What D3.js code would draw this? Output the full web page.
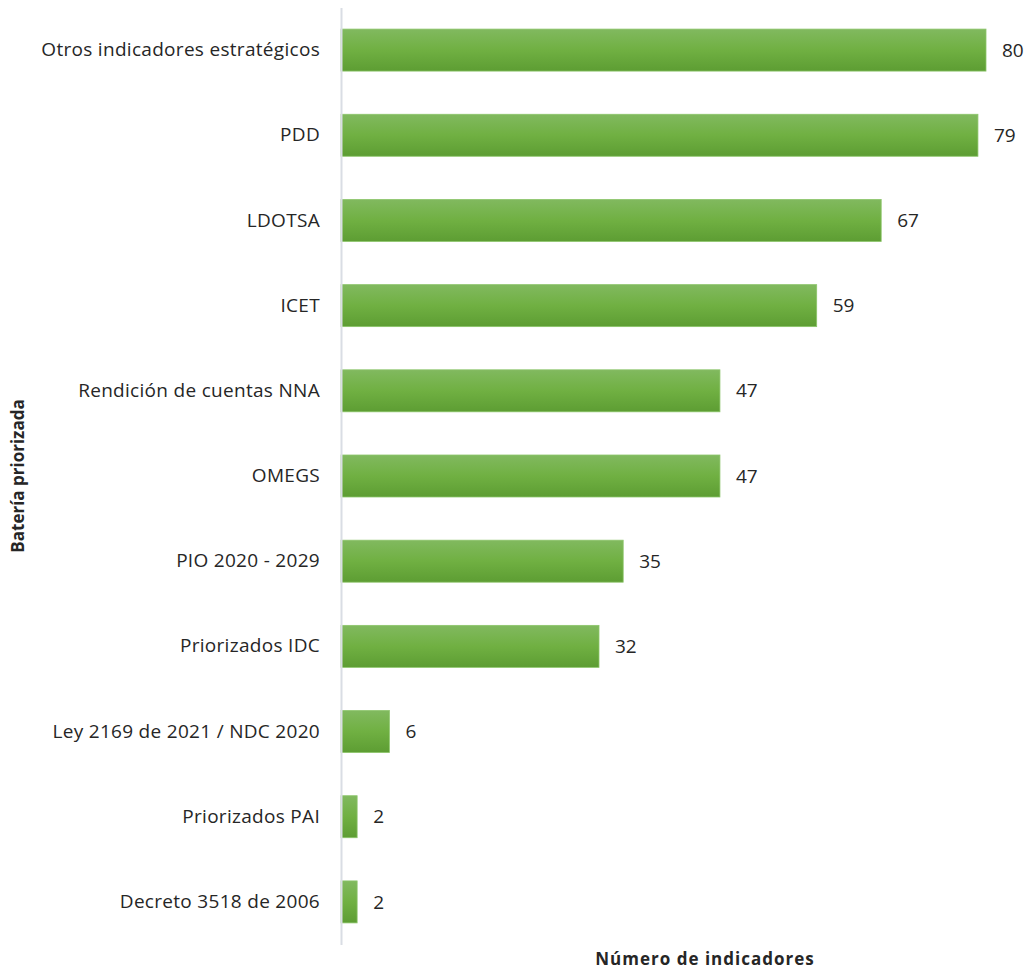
<!DOCTYPE html>
<html>
<head>
<meta charset="utf-8">
<script src="https://cdn.jsdelivr.net/npm/d3@7"></script>
<style>
  body { margin: 0; background: #fff; }
  text { font-family: "Open Sans", Lato, sans-serif; fill: #262626; }
</style>
</head>
<body>
<div id="chart"></div>
<script>
'use strict';

const categories = [
  'Otros indicadores estratégicos', 'PDD', 'LDOTSA', 'ICET',
  'Rendición de cuentas NNA', 'OMEGS', 'PIO 2020 - 2029', 'Priorizados IDC',
  'Ley 2169 de 2021 / NDC 2020', 'Priorizados PAI', 'Decreto 3518 de 2006'
];
const values = [80, 79, 67, 59, 47, 47, 35, 32, 6, 2, 2];
const xTitle = 'Número de indicadores';
const yTitle = 'Batería priorizada';

let width = 1029,
    height = 972;

let svg = d3.select('#chart')
  .append('svg')
    .attr('width', width)
    .attr('height', height);

let defs = svg.append('defs');
let grad = defs.append('linearGradient')
    .attr('id', 'barGrad')
    .attr('x1', 0).attr('y1', 0).attr('x2', 0).attr('y2', 1);
grad.append('stop').attr('offset', '0%').attr('stop-color', '#81b95f');
grad.append('stop').attr('offset', '50%').attr('stop-color', '#70b042');
grad.append('stop').attr('offset', '100%').attr('stop-color', '#5d9d33');

let x = d3.scaleLinear()
  .domain([0, 80])
  .range([341, 986]);

let y = d3.scaleBand()
  .domain(categories)
  .range([7.5, 944.5])
  .paddingInner(0.507)
  .paddingOuter(0.2535);

// bars
svg.selectAll('rect.bar')
  .data(values)
  .enter().append('rect')
    .attr('class', 'bar')
    .attr('x', x(0))
    .attr('y', (d, i) => y(categories[i]))
    .attr('width', d => x(d) - x(0))
    .attr('height', y.bandwidth())
    .attr('fill', 'url(#barGrad)')
    .attr('stroke', '#8cc56a')
    .attr('stroke-width', 0.8);

// axis line
let yAxis = d3.axisLeft(y).tickSize(0).tickPadding(21);
let gy = svg.append('g')
  .attr('transform', 'translate(' + x(0) + ',0)')
  .call(yAxis);
gy.select('.domain')
  .attr('stroke', '#d9dde4')
  .attr('stroke-width', 2);
gy.selectAll('text')
  .style('font-family', '"Open Sans", sans-serif')
  .style('font-size', '19px')
  .style('letter-spacing', '0.3px')
  .attr('fill', '#262626');

// value labels
svg.selectAll('text.val')
  .data(values)
  .enter().append('text')
    .attr('class', 'val')
    .attr('x', d => x(d) + 16)
    .attr('y', (d, i) => y(categories[i]) + y.bandwidth() / 2)
    .attr('dy', '0.35em')
    .style('font-size', '19px')
    .text(d => d);

// axis titles
svg.append('text')
  .attr('x', 705)
  .attr('y', 965)
  .attr('text-anchor', 'middle')
  .style('font-size', '17px')
  .style('letter-spacing', '1px')
  .style('font-weight', 'bold')
  .text(xTitle);

svg.append('text')
  .attr('transform', 'translate(24,476) rotate(-90)')
  .attr('text-anchor', 'middle')
  .style('font-size', '17px')
  .style('font-weight', 'bold')
  .text(yTitle);
</script>
</body>
</html>
